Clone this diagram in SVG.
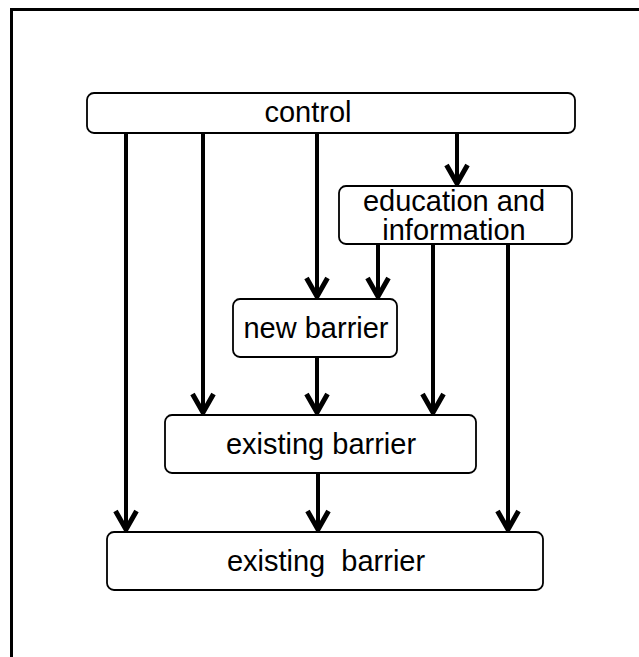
<svg xmlns="http://www.w3.org/2000/svg" width="639" height="657" viewBox="0 0 639 657">
<defs>
<style>
.box{fill:#fff;stroke:#000;stroke-width:1.8}
.lbl{font-family:"Liberation Sans",Arial,sans-serif;font-size:29px;fill:#000;text-anchor:middle}
.edge{fill:none;stroke:#000;stroke-width:4}
</style>
<marker id="arr" markerUnits="userSpaceOnUse" viewBox="-26 -16 30 32" markerWidth="30" markerHeight="32" refX="0" refY="0" orient="auto">
<path d="M-20,-10.5 L-1.5,0 L-20,10.5" fill="none" stroke="#000" stroke-width="5" stroke-linejoin="miter"/>
</marker>
</defs>
<rect x="0" y="0" width="639" height="657" fill="#fff"/>
<rect x="11.5" y="9.5" width="700" height="700" fill="none" stroke="#000" stroke-width="3"/>
<g id="connectors">
<path class="edge" d="M126,133 V531" marker-end="url(#arr)"/>
<path class="edge" d="M203,133 V414" marker-end="url(#arr)"/>
<path class="edge" d="M317,133 V298" marker-end="url(#arr)"/>
<path class="edge" d="M457,133 V185" marker-end="url(#arr)"/>
<path class="edge" d="M378,244 V298" marker-end="url(#arr)"/>
<path class="edge" d="M433,244 V414" marker-end="url(#arr)"/>
<path class="edge" d="M508,244 V531" marker-end="url(#arr)"/>
<path class="edge" d="M317,357 V414" marker-end="url(#arr)"/>
<path class="edge" d="M318,473 V531" marker-end="url(#arr)"/>
</g>
<g id="control">
<rect class="box" x="87" y="93" width="488" height="40" rx="7"/>
<text class="lbl" x="308" y="122">control</text>
</g>
<g id="education">
<rect class="box" x="339" y="186" width="233" height="58" rx="7"/>
<text class="lbl" x="454" y="211">education and</text>
<text class="lbl" x="454" y="240">information</text>
</g>
<g id="new_barrier">
<rect class="box" x="233" y="299" width="164" height="58" rx="7"/>
<text class="lbl" x="316" y="338">new barrier</text>
</g>
<g id="existing_barrier_1">
<rect class="box" x="165" y="415" width="311" height="58" rx="7"/>
<text class="lbl" x="321" y="454">existing barrier</text>
</g>
<g id="existing_barrier_2">
<rect class="box" x="107" y="532" width="436" height="58" rx="7"/>
<text class="lbl" x="326" y="571" xml:space="preserve">existing  barrier</text>
</g>
</svg>
